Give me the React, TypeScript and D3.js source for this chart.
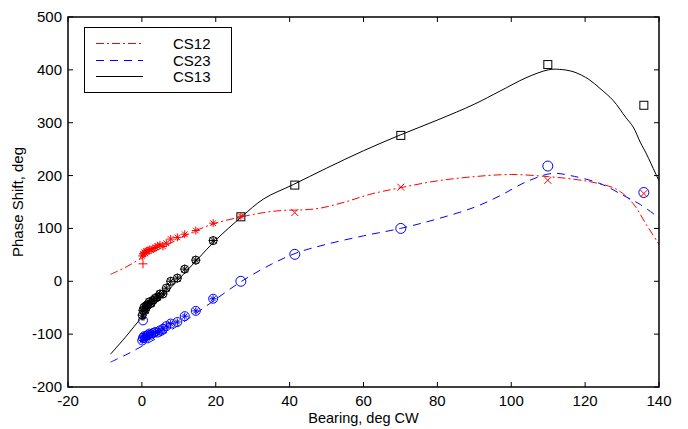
import React from "react";
import * as d3 from "d3";

// ---- data ----
const clusterBearing = [0.1, 0.3, 0.6, 0.9, 1.2, 1.6, 2.0, 2.5, 3.0, 3.6, 4.2, 4.9, 5.7, 6.6, 7.8, 9.6, 11.6, 14.6, 19.3];
const clusterCS12 = [48, 52, 55, 53, 57, 58, 60, 59, 62, 64, 67, 69, 66, 72, 80, 83, 89, 96, 110];
const clusterCS23 = [-112, -107, -104, -108, -103, -102, -99, -101, -98, -96, -97, -93, -90, -85, -80, -77, -66, -56, -33];
const clusterCS13 = [-64, -55, -49, -55, -46, -44, -39, -42, -36, -32, -30, -24, -24, -13, 0, 6, 23, 40, 77];

const plusCS12 = [{ b: 0.3, v: 33 }];
const extraCS23 = [{ b: 0.3, v: -74 }];
const extraCS13 = [{ b: 0.3, v: -70 }];

const farBearing = [26.8, 41.4, 70.1, 109.9, 135.9];
const farCS12 = [123, 130, 178, 191, 166];
const farCS23 = [0, 51, 100, 218, 168];
const farCS13 = [122, 182, 276, 410, 333];

const fitX12 = [-8.5, -4, 0, 5, 10, 15, 20, 27, 33, 38, 43, 48, 55, 62, 70, 80, 90, 100, 110, 117, 123, 128.5, 133, 136.5, 140];
const fitY12 = [13, 28, 44, 62, 80, 97, 110, 122, 130, 134, 135, 138, 150, 165, 177, 190, 198, 202, 198, 193, 186, 174, 147, 108, 70];
const fitX23 = [-8.5, -4, 0, 5, 10, 15, 20, 27, 35, 42, 50, 60, 70, 80, 90, 97, 104, 111, 116, 124, 131, 135, 140];
const fitY23 = [-153, -138, -123, -104, -83, -59, -34, 0, 32, 54, 70, 86, 100, 118, 140, 162, 188, 204, 200, 185, 160, 145, 120];
const fitX13 = [-8.5, -4, 0, 5, 10, 15, 20, 27, 33, 41, 50, 60, 70, 80, 90, 97, 104, 110, 113, 117, 121, 124, 127.6, 131, 133, 135, 136.6, 139, 140];
const fitY13 = [-138, -102, -68, -33, 4, 41, 78, 122, 156, 183, 214, 247, 277, 305, 335, 360, 385, 400, 401, 396, 382, 365, 342, 310, 292, 262, 241, 205, 190];

const xTicks = [-20, 0, 20, 40, 60, 80, 100, 120, 140];
const yTicks = [-200, -100, 0, 100, 200, 300, 400, 500];

const legendNames = ["CS12", "CS23", "CS13"];
const RED = "#ff0000";
const BLUE = "#0000ff";
const BLACK = "#000000";

const W = 688, H = 429;
const M = { left: 68, right: 659, top: 17, bottom: 387 };
const FONT = "'Liberation Sans', Arial, Helvetica, sans-serif";

function Star({ x, y, r, color }: { x: number; y: number; r: number; color: string }) {
  const segs = [0, 45, 90, 135].map((a) => {
    const rad = (a * Math.PI) / 180;
    return `M${x - r * Math.cos(rad)},${y - r * Math.sin(rad)}L${x + r * Math.cos(rad)},${y + r * Math.sin(rad)}`;
  });
  return <path d={segs.join("")} stroke={color} strokeWidth={1} fill="none" />;
}

export default function App() {
  const x = d3.scaleLinear().domain([-20, 140]).range([M.left, M.right]);
  const y = d3.scaleLinear().domain([-200, 500]).range([M.bottom, M.top]);
  const line = d3
    .line<[number, number]>()
    .x((d) => x(d[0]))
    .y((d) => y(d[1]))
    .curve(d3.curveCatmullRom.alpha(0.5));

  const f12 = fitX12.map((v, i) => [v, fitY12[i]] as [number, number]);
  const f23 = fitX23.map((v, i) => [v, fitY23[i]] as [number, number]);
  const f13 = fitX13.map((v, i) => [v, fitY13[i]] as [number, number]);

  const tk = 5;
  const legendY = [43.5, 60.5, 76.5];

  return (
    <svg width={W} height={H} style={{ position: "absolute", left: 0, top: 0, fontFamily: FONT }}>
      <rect x={0} y={0} width={W} height={H} fill="#fff" />
      <defs>
        <clipPath id="plotclip">
          <rect x={M.left} y={M.top} width={M.right - M.left} height={M.bottom - M.top} />
        </clipPath>
      </defs>

      <g clipPath="url(#plotclip)">
        <path d={line(f12) || ""} fill="none" stroke={RED} strokeWidth={1} strokeDasharray="8,3,2,3" />
        <path d={line(f23) || ""} fill="none" stroke={BLUE} strokeWidth={1} strokeDasharray="8,6" />
        <path d={line(f13) || ""} fill="none" stroke={BLACK} strokeWidth={1} />

        {clusterBearing.map((b, i) => (
          <g key={"b" + i}>
            <circle cx={x(b)} cy={y(clusterCS23[i])} r={4.5} fill="none" stroke={BLUE} strokeWidth={1} />
            <Star x={x(b)} y={y(clusterCS23[i])} r={3.5} color={BLUE} />
          </g>
        ))}
        {extraCS23.map((d, i) => (
          <circle key={"be" + i} cx={x(d.b)} cy={y(d.v)} r={4.5} fill="none" stroke={BLUE} strokeWidth={1} />
        ))}

        {clusterBearing.map((b, i) => (
          <g key={"k" + i}>
            <circle cx={x(b)} cy={y(clusterCS13[i])} r={4} fill="none" stroke={BLACK} strokeWidth={1} />
            <Star x={x(b)} y={y(clusterCS13[i])} r={4.5} color={BLACK} />
          </g>
        ))}
        {extraCS13.map((d, i) => (
          <Star key={"ke" + i} x={x(d.b)} y={y(d.v)} r={2.5} color={BLACK} />
        ))}

        {clusterBearing.map((b, i) => (
          <Star key={"r" + i} x={x(b)} y={y(clusterCS12[i])} r={4} color={RED} />
        ))}
        {plusCS12.map((d, i) => (
          <path
            key={"rp" + i}
            d={`M${x(d.b) - 4.5},${y(d.v)}h9M${x(d.b)},${y(d.v) - 4.5}v9`}
            stroke={RED}
            strokeWidth={1}
          />
        ))}

        {farBearing.map((b, i) => (
          <rect key={"sq" + i} x={x(b) - 4} y={y(farCS13[i]) - 4} width={8} height={8} fill="none" stroke={BLACK} strokeWidth={1} />
        ))}
        {farBearing.map((b, i) => (
          <circle key={"fc" + i} cx={x(b)} cy={y(farCS23[i])} r={5} fill="none" stroke={BLUE} strokeWidth={1} />
        ))}
        {farBearing.map((b, i) =>
          i === 0 ? (
            <Star key={"fx" + i} x={x(b)} y={y(farCS12[i])} r={3.5} color={RED} />
          ) : (
            <path
              key={"fx" + i}
              d={`M${x(b) - 3.5},${y(farCS12[i]) - 3.5}l7,7M${x(b) - 3.5},${y(farCS12[i]) + 3.5}l7,-7`}
              stroke={RED}
              strokeWidth={1}
            />
          )
        )}
      </g>

      <rect x={M.left} y={M.top} width={M.right - M.left} height={M.bottom - M.top} fill="none" stroke="#000" strokeWidth={1.5} />
      {xTicks.map((t) => (
        <g key={"xt" + t}>
          <line x1={x(t)} x2={x(t)} y1={M.bottom} y2={M.bottom - tk} stroke="#000" strokeWidth={1} />
          <line x1={x(t)} x2={x(t)} y1={M.top} y2={M.top + tk} stroke="#000" strokeWidth={1} />
          <text x={x(t)} y={M.bottom + 19} textAnchor="middle" fontSize={15} fill="#000">
            {t}
          </text>
        </g>
      ))}
      {yTicks.map((t) => (
        <g key={"yt" + t}>
          <line x1={M.left} x2={M.left + tk} y1={y(t)} y2={y(t)} stroke="#000" strokeWidth={1} />
          <line x1={M.right} x2={M.right - tk} y1={y(t)} y2={y(t)} stroke="#000" strokeWidth={1} />
          <text x={M.left - 6} y={y(t) + 5} textAnchor="end" fontSize={15} fill="#000">
            {t}
          </text>
        </g>
      ))}
      <text x={(M.left + M.right) / 2} y={423} textAnchor="middle" fontSize={14.5} fill="#000">
        Bearing, deg CW
      </text>
      <text
        transform={`translate(23,${(M.top + M.bottom) / 2}) rotate(-90)`}
        textAnchor="middle"
        fontSize={15}
        fill="#000"
      >
        Phase Shift, deg
      </text>

      <rect x={84.5} y={27.5} width={147} height={65} fill="#fff" stroke="#000" strokeWidth={1} />
      {legendNames.map((n, i) => {
        const ly = legendY[i];
        const col = [RED, BLUE, BLACK][i];
        const dash = ["8,3,2,3", "8,6", "none"][i];
        return (
          <g key={n}>
            <line x1={96} x2={143} y1={ly} y2={ly} stroke={col} strokeWidth={1.2} strokeDasharray={dash} />
            <text x={173} y={ly + 5.5} fontSize={15} fill="#000">
              {n}
            </text>
          </g>
        );
      })}
    </svg>
  );
}
